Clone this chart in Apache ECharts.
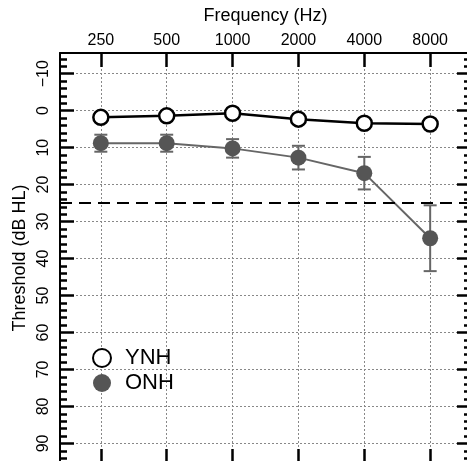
<!DOCTYPE html>
<html>
<head>
<meta charset="utf-8">
<script src="https://cdn.jsdelivr.net/npm/echarts@6/dist/echarts.min.js"></script>
<style>
html,body{margin:0;padding:0;background:#fff;}
#chart{width:467px;height:461px;}
</style>
</head>
<body>
<div id="chart"></div>
<script>
// ---- data ----
var frequencies = ['250', '500', '1000', '2000', '4000', '8000'];
var ynhThreshold = [1.8, 1.4, 0.7, 2.3, 3.4, 3.6];
var onhThreshold = [8.8, 8.8, 10.2, 12.7, 16.9, 34.5];
var onhError = [2.3, 2.3, 2.5, 3.2, 4.4, 8.9];
var yMajorTicks = [-10, 0, 10, 20, 30, 40, 50, 60, 70, 80, 90];
var criterionLevel = 25;

// ---- derived ----
var idx = frequencies.map(function (_, i) { return i; });
var ynhData = ynhThreshold.map(function (v, i) { return [i, v]; });
var onhData = onhThreshold.map(function (v, i) { return [i, v]; });
var errData = onhThreshold.map(function (v, i) { return [i, v - onhError[i], v + onhError[i]]; });
var yMinorTicks = [];
for (var t = -14; t <= 94; t += 2) { if (t % 10 !== 0) yMinorTicks.push(t); }

var X_MIN = -0.62, X_MAX = 5.62, Y_MIN = -15.6, Y_MAX = 95.3;
var FONT = 'Liberation Sans, Arial, sans-serif';

var chart = echarts.init(document.getElementById('chart'), null, {renderer: 'canvas'});

function yAxisBase(pos) {
  return {
    type: 'value', position: pos, inverse: true, min: Y_MIN, max: Y_MAX,
    axisLine: {show: false, onZero: false}, axisLabel: {show: false}, splitLine: {show: false},
    axisTick: {show: false}
  };
}

var yAxes = [];
// left major
var yl = yAxisBase('left');
yl.axisLine = {show: true, onZero: false, lineStyle: {color: '#000', width: 2}};
yl.axisTick = {show: true, inside: true, length: 14, customValues: yMajorTicks, lineStyle: {color: '#000', width: 2.5}};
yl.axisLabel = {show: true, customValues: yMajorTicks, rotate: 90, margin: 16, align: 'center', verticalAlign: 'middle',
  color: '#000', fontSize: 16, fontFamily: FONT,
  formatter: function (v) { return v < 0 ? '\u2212' + Math.abs(v) : String(v); }};
yl.splitLine = {show: true, lineStyle: {color: '#888', width: 1, type: [2, 2]}};
yl.name = 'Threshold (dB HL)';
yl.nameLocation = 'middle';
yl.nameGap = 40;
yl.nameMoveOverlap = false;
yl.nameTextStyle = {color: '#000', fontSize: 18, fontFamily: FONT, align: 'center', verticalAlign: 'middle'};
yAxes.push(yl);
// left minor
var ylm = yAxisBase('left');
ylm.axisTick = {show: true, inside: true, length: 7, customValues: yMinorTicks, lineStyle: {color: '#000', width: 2.5}};
yAxes.push(ylm);
// right major
var yr = yAxisBase('right');
yr.axisLine = {show: true, onZero: false, lineStyle: {color: '#000', width: 2}};
yr.axisTick = {show: true, inside: true, length: 14, customValues: yMajorTicks, lineStyle: {color: '#000', width: 2.5}};
yAxes.push(yr);
// right minor
var yrm = yAxisBase('right');
yrm.axisTick = {show: true, inside: true, length: 7, customValues: yMinorTicks, lineStyle: {color: '#000', width: 2.5}};
yAxes.push(yrm);

var option = {
  animation: false,
  backgroundColor: '#fff',
  grid: {left: 60, top: 53, right: -4, bottom: -2, containLabel: false, outerBoundsMode: 'none'},
  xAxis: [
    {
      type: 'value', position: 'top', min: X_MIN, max: X_MAX,
      axisLine: {show: true, onZero: false, lineStyle: {color: '#000', width: 2}},
      axisTick: {show: true, inside: true, length: 14, customValues: idx, lineStyle: {color: '#000', width: 2.5}},
      axisLabel: {show: true, customValues: idx, margin: 12, align: 'center', verticalAlign: 'middle',
        color: '#000', fontSize: 16, fontFamily: FONT,
        formatter: function (v) { return frequencies[Math.round(v)]; }},
      splitLine: {show: true, lineStyle: {color: '#888', width: 1, type: [2, 2]}},
      name: 'Frequency (Hz)', nameLocation: 'middle', nameGap: 37, nameMoveOverlap: false,
      nameTextStyle: {color: '#000', fontSize: 18, fontFamily: FONT, align: 'center', verticalAlign: 'middle'}
    },
    {
      type: 'value', position: 'bottom', min: X_MIN, max: X_MAX,
      axisLine: {show: true, onZero: false, lineStyle: {color: '#000', width: 2}},
      axisTick: {show: true, inside: true, length: 14, customValues: idx, lineStyle: {color: '#000', width: 2.5}},
      axisLabel: {show: false}, splitLine: {show: false}
    }
  ],
  yAxis: yAxes,
  legend: {
    orient: 'vertical', left: 87, top: 342, itemWidth: 36, itemHeight: 18, itemGap: 3,
    symbolKeepAspect: true,
    textStyle: {color: '#000', fontSize: 22, fontFamily: FONT},
    data: [{name: 'YNH', icon: 'circle'}, {name: 'ONH', icon: 'circle'}]
  },
  series: [
    {
      name: 'criterion', type: 'line', data: [], xAxisIndex: 0, yAxisIndex: 0,
      markLine: {
        silent: true, symbol: 'none', label: {show: false},
        lineStyle: {color: '#000', width: 2, type: [12, 7]},
        data: [{yAxis: criterionLevel}]
      }
    },
    {
      name: 'ONH error', type: 'custom', xAxisIndex: 0, yAxisIndex: 0, z: 3,
      data: errData,
      renderItem: function (params, api) {
        var x = api.value(0);
        var p1 = api.coord([x, api.value(1)]);
        var p2 = api.coord([x, api.value(2)]);
        var hw = 6.5;
        var st = {stroke: '#666', lineWidth: 2};
        return {type: 'group', children: [
          {type: 'line', shape: {x1: p1[0], y1: p1[1], x2: p2[0], y2: p2[1]}, style: st},
          {type: 'line', shape: {x1: p1[0] - hw, y1: p1[1], x2: p1[0] + hw, y2: p1[1]}, style: st},
          {type: 'line', shape: {x1: p2[0] - hw, y1: p2[1], x2: p2[0] + hw, y2: p2[1]}, style: st}
        ]};
      }
    },
    {
      name: 'ONH', type: 'line', xAxisIndex: 0, yAxisIndex: 0, z: 4,
      data: onhData, symbol: 'circle', symbolSize: 16,
      itemStyle: {color: '#555', borderColor: '#555', borderWidth: 0},
      lineStyle: {color: '#666', width: 2}
    },
    {
      name: 'YNH', type: 'line', xAxisIndex: 0, yAxisIndex: 0, z: 5,
      data: ynhData, symbol: 'circle', symbolSize: 15,
      itemStyle: {color: '#fff', borderColor: '#000', borderWidth: 2.5},
      lineStyle: {color: '#000', width: 2.5}
    }
  ]
};
chart.setOption(option);
</script>
</body>
</html>
